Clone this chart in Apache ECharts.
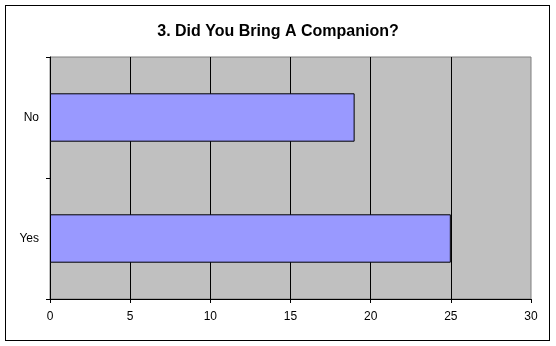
<!DOCTYPE html>
<html>
<head>
<meta charset="utf-8">
<script src="https://cdn.jsdelivr.net/npm/echarts@6/dist/echarts.min.js"></script>
<style>
html,body{margin:0;padding:0;background:#fff;}
#wrap{position:relative;width:556px;height:346px;}
#frame{position:absolute;left:5px;top:5px;width:543px;height:334px;border:1px solid #000;}
#chart{position:absolute;left:0;top:0;width:556px;height:346px;}
</style>
</head>
<body>
<div id="wrap"><div id="frame"></div><div id="chart"></div></div>
<script>
const titleText = "3. Did You Bring A Companion?";
const categories = ["Yes", "No"];
const values = [25, 19];
const xMin = 0, xMax = 30, xStep = 5;

const chart = echarts.init(document.getElementById('chart'), null, {renderer: 'canvas'});
chart.setOption({
  animation: false,
  title: {
    text: titleText,
    left: 'center',
    top: 19,
    textStyle: {fontFamily: 'Liberation Sans, Arial, sans-serif', fontWeight: 'bold', fontSize: 16, color: '#000'}
  },
  grid: {
    left: 50, right: 25, top: 57, bottom: 47,
    show: true, backgroundColor: '#c0c0c0', borderColor: '#808080', borderWidth: 1
  },
  xAxis: {
    type: 'value', min: xMin, max: xMax, interval: xStep,
    axisLine: {show: true, lineStyle: {color: '#000', width: 1}},
    axisTick: {show: true, length: 4, lineStyle: {color: '#000'}},
    axisLabel: {margin: 12, color: '#000', fontFamily: 'Liberation Sans, Arial, sans-serif', fontSize: 12},
    splitLine: {show: true, showMinLine: false, showMaxLine: false, lineStyle: {color: '#000', width: 1}}
  },
  yAxis: {
    type: 'category', data: categories,
    axisLine: {show: true, lineStyle: {color: '#000', width: 1}},
    axisTick: {show: true, length: 4, lineStyle: {color: '#000'}},
    axisLabel: {margin: 11, color: '#000', fontFamily: 'Liberation Sans, Arial, sans-serif', fontSize: 12},
    splitLine: {show: false}
  },
  series: [{
    type: 'bar',
    data: values,
    barCategoryGap: '60%',
    itemStyle: {color: '#9999ff', borderColor: '#000', borderWidth: 1}
  }]
});
</script>
</body>
</html>
